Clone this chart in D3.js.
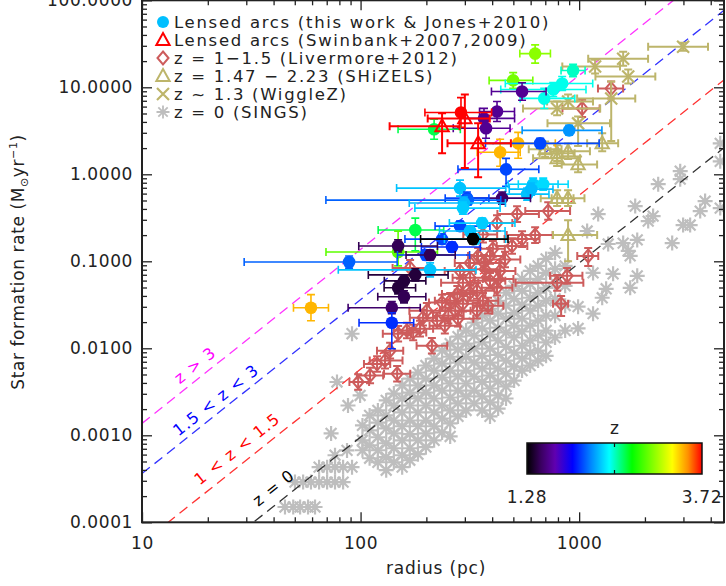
<!DOCTYPE html>
<html>
<head>
<meta charset="utf-8">
<script src="https://cdn.jsdelivr.net/npm/d3@7"></script>
<style>
  body { margin: 0; background: #fff; }
  svg { display: block; font-family: 'DejaVu Sans', sans-serif; }
</style>
</head>
<body>
<div id="viz"></div>
<script>
// Lensed arcs (this work & Jones+2010)
// [radius pc, SFR, z, radius err lo, radius err hi, SFR err lo, SFR err hi]  (errors in dex)
const lensedArcs = [
  [629, 24.4, 3.05, 0.07, 0.07, 0.11, 0.10],
  [499, 12.0, 3.0, 0.11, 0.09, 0.09, 0.09],
  [938, 15.6, 2.5, 0.055, 0.055, 0.07, 0.07],
  [836, 11.05, 2.45, 0.26, 0.14, 0.08, 0.08],
  [761, 9.43, 2.45, 0.24, 0.15, 0.08, 0.08],
  [692, 7.45, 2.45, 0.11, 0.14, 0.115, 0.115],
  [548, 8.95, 1.6, 0.14, 0.11, 0.10, 0.10],
  [421, 5.28, 1.6, 0.08, 0.08, 0.115, 0.115],
  [367, 4.39, 1.6, 0.087, 0.14, 0.115, 0.115],
  [375, 3.38, 1.6, 0.15, 0.11, 0.115, 0.115],
  [288, 5.14, 3.72, 0.165, 0.14, 0.17, 0.17],
  [217, 3.29, 2.65, 0.165, 0.12, 0.115, 0.115],
  [526, 2.27, 3.45, 0.17, 0.17, 0.172, 0.126],
  [435, 1.79, 3.45, 0.105, 0.092, 0.16, 0.15],
  [900, 3.2, 2.2, 0.215, 0.15, 0.057, 0.057],
  [663, 2.27, 2.05, 0.25, 0.27, 0.057, 0.057],
  [463, 1.14, 2.05, 0.22, 0.15, 0.195, 0.126],
  [285, 0.694, 2.3, 0.29, 0.21, 0.092, 0.092],
  [616, 0.77, 2.32, 0.114, 0.114, 0.07, 0.07],
  [685, 0.77, 2.35, 0.114, 0.114, 0.07, 0.07],
  [578, 0.591, 2.3, 0.10, 0.10, 0.07, 0.07],
  [603, 0.675, 2.28, 0.10, 0.10, 0.07, 0.07],
  [444, 0.532, 1.5, 0.15, 0.13, 0.07, 0.07],
  [307, 0.532, 2.05, 0.1, 0.1, 0.07, 0.07],
  [310, 0.505, 2.1, 0.65, 0.15, 0.057, 0.057],
  [297, 0.467, 2.28, 0.25, 0.19, 0.07, 0.07],
  [294, 0.409, 2.32, 0.22, 0.17, 0.07, 0.07],
  [178, 0.229, 2.65, 0.17, 0.13, 0.24, 0.137],
  [285, 0.254, 2.05, 0.114, 0.137, 0.057, 0.057],
  [236, 0.18, 2.05, 0.17, 0.15, 0.057, 0.057],
  [262, 0.146, 2.0, 0.14, 0.13, 0.057, 0.057],
  [317, 0.223, 2.3, 0.14, 0.16, 0.057, 0.057],
  [360, 0.275, 2.32, 0.15, 0.15, 0.057, 0.057],
  [334, 0.18, 2.32, 0.14, 0.14, 0.057, 0.057],
  [327, 0.18, 1.28, 0.24, 0.16, 0.057, 0.057],
  [148.5, 0.128, 2.95, 0.33, 0.18, 0.16, 0.24],
  [148.5, 0.150, 1.45, 0.18, 0.18, 0.07, 0.07],
  [88.6, 0.098, 2.1, 0.48, 0.22, 0.07, 0.07],
  [199, 0.118, 2.05, 0.13, 0.20, 0.057, 0.057],
  [208, 0.118, 1.45, 0.11, 0.115, 0.057, 0.057],
  [208, 0.0797, 2.3, 0.42, 0.21, 0.08, 0.08],
  [178, 0.0698, 1.4, 0.215, 0.15, 0.07, 0.07],
  [158, 0.0596, 1.4, 0.09, 0.10, 0.07, 0.07],
  [148.5, 0.0496, 1.4, 0.064, 0.08, 0.07, 0.07],
  [158, 0.0391, 1.45, 0.12, 0.10, 0.07, 0.07],
  [139, 0.0293, 1.5, 0.2, 0.13, 0.07, 0.07],
  [139, 0.0197, 2.0, 0.15, 0.10, 0.30, 0.115],
  [59.3, 0.0293, 3.45, 0.08, 0.08, 0.15, 0.15]
];

// Lensed arcs (Swinbank+2007,2009): [radius, SFR, r lo, r hi, SFR lo, SFR hi] (dex)
const swinbankArcs = [
  [300, 4.39, 0.17, 0.114, 0.57, 0.275],
  [236, 3.56, 0.24, 0.08, 0.31, 0.15],
  [345, 2.27, 0.14, 0.15, 0.39, 0.23]
];

// z = 1-1.5 (Livermore+2012)
const livermore = [
  [1400, 9.68, 0.06, 0.055, 0.115, 0.08],
  [1032, 5.72, 0.09, 0.08, 0.1, 0.1],
  [520, 0.349, 0.09, 0.1, 0.09, 0.09],
  [722, 0.378, 0.105, 0.1, 0.1, 0.1],
  [629, 0.2, 0.13, 0.08, 0.09, 0.09],
  [548, 0.18, 0.08, 0.08, 0.09, 0.09],
  [1100, 0.1153, 0.05, 0.046, 0.115, 0.09],
  [881, 0.068, 0.078, 0.07, 0.09, 0.09],
  [793, 0.0565, 0.19, 0.12, 0.09, 0.09],
  [827, 0.0325, 0.037, 0.032, 0.14, 0.09],
  [363, 0.203, 0.09, 0.065, 0.09, 0.09],
  [421, 0.275, 0.07, 0.07, 0.09, 0.09],
  [493, 0.150, 0.07, 0.07, 0.09, 0.09],
  [345, 0.1153, 0.046, 0.055, 0.09, 0.09],
  [391, 0.1153, 0.06, 0.06, 0.09, 0.09],
  [458, 0.105, 0.07, 0.07, 0.09, 0.09],
  [403, 0.139, 0.06, 0.055, 0.09, 0.09],
  [317, 0.0958, 0.07, 0.07, 0.09, 0.09],
  [367, 0.0958, 0.07, 0.07, 0.09, 0.09],
  [285, 0.0776, 0.07, 0.07, 0.09, 0.09],
  [435, 0.0776, 0.07, 0.07, 0.09, 0.09],
  [371, 0.081, 0.07, 0.07, 0.09, 0.09],
  [426, 0.0628, 0.07, 0.07, 0.09, 0.09],
  [317, 0.0645, 0.08, 0.07, 0.09, 0.09],
  [391, 0.0596, 0.07, 0.07, 0.09, 0.09],
  [294, 0.0565, 0.1, 0.07, 0.09, 0.09],
  [341, 0.0458, 0.07, 0.08, 0.09, 0.09],
  [317, 0.0435, 0.07, 0.07, 0.09, 0.09],
  [421, 0.0496, 0.07, 0.07, 0.09, 0.09],
  [277, 0.0422, 0.07, 0.07, 0.09, 0.09],
  [363, 0.0352, 0.07, 0.07, 0.09, 0.09],
  [383, 0.0309, 0.07, 0.07, 0.09, 0.09],
  [294, 0.0325, 0.08, 0.08, 0.09, 0.09],
  [341, 0.027, 0.07, 0.07, 0.09, 0.09],
  [257, 0.0352, 0.07, 0.06, 0.09, 0.09],
  [236, 0.0335, 0.06, 0.06, 0.09, 0.09],
  [201, 0.027, 0.08, 0.085, 0.09, 0.09],
  [271, 0.027, 0.07, 0.07, 0.09, 0.09],
  [279, 0.0219, 0.07, 0.07, 0.09, 0.09],
  [252, 0.0237, 0.07, 0.07, 0.09, 0.09],
  [243, 0.0182, 0.07, 0.07, 0.09, 0.09],
  [224, 0.0208, 0.08, 0.06, 0.09, 0.09],
  [193, 0.0225, 0.06, 0.06, 0.09, 0.09],
  [212, 0.0107, 0.07, 0.07, 0.09, 0.09],
  [174, 0.0152, 0.07, 0.06, 0.09, 0.09],
  [163, 0.016, 0.06, 0.06, 0.09, 0.09],
  [187, 0.0168, 0.06, 0.06, 0.09, 0.09],
  [148.5, 0.0147, 0.07, 0.06, 0.09, 0.09],
  [168.5, 0.084, 0.08, 0.08, 0.09, 0.09],
  [136.5, 0.0094, 0.06, 0.06, 0.09, 0.09],
  [129.4, 0.00723, 0.07, 0.08, 0.09, 0.09],
  [119, 0.0066, 0.06, 0.06, 0.09, 0.09],
  [110.5, 0.00487, 0.06, 0.06, 0.09, 0.09],
  [147, 0.0051, 0.06, 0.06, 0.09, 0.09],
  [97.5, 0.0041, 0.04, 0.05, 0.09, 0.09]
];

// z = 1.47 - 2.23 (SHiZELS)
const shizels = [
  [1275, 2.27, 0.069, 0.073, 0.092, 0.115],
  [699, 1.94, 0.075, 0.075, 0.09, 0.09],
  [793, 1.75, 0.08, 0.08, 0.09, 0.09],
  [890, 1.84, 0.08, 0.1, 0.09, 0.09],
  [793, 1.53, 0.11, 0.105, 0.09, 0.09],
  [989, 1.30, 0.075, 0.087, 0.09, 0.09],
  [793, 0.532, 0.075, 0.075, 0.09, 0.09],
  [890, 0.532, 0.075, 0.075, 0.09, 0.09],
  [890, 0.2, 0.069, 0.133, 0.3, 0.17]
];

// z ~ 1.3 (WiggleZ)
const wigglez = [
  [2990, 29.3, 0.16, 0.114, 0.046, 0.046],
  [1590, 21.3, 0.16, 0.114, 0.08, 0.08],
  [1183, 17.3, 0.15, 0.114, 0.08, 0.08],
  [1677, 13.3, 0.15, 0.124, 0.08, 0.08],
  [890, 6.88, 0.096, 0.114, 0.08, 0.08],
  [793, 5.72, 0.156, 0.197, 0.08, 0.08],
  [1402, 7.45, 0.156, 0.11, 0.49, 0.195],
  [989, 3.85, 0.14, 0.146, 0.26, 0.08]
];

// z = 0 (SINGS): [radius, [SFR of the galaxies near that radius]]
const sings = [
  [45.1, [0.00015]], [49.2, [0.00015]], [52.9, [0.00015]], [57.5, [0.00015]], [61.9, [0.00015]],
  [50.1, [0.00029]], [54.6, [0.00029]], [59.3, [0.00029]], [64.6, [0.00029, 0.00043]],
  [70.3, [0.00029, 0.00043]], [76.4, [0.00029, 0.00043, 0.00059]], [83.2, [0.00029, 0.00043]],
  [91.4, [0.00043, 0.0147]], [86.7, [0.00067]], [73.3, [0.00105]], [87.6, [0.0022]],
  [78.0, [0.0041]], [99.5, [0.00287]],
  [102, [0.0013, 0.000876, 0.000673]],
  [110, [0.00169, 0.00114, 0.000768, 0.000545]],
  [120, [0.00193, 0.0014, 0.00095, 0.000673, 0.00049]],
  [131, [0.00252, 0.00169, 0.0012, 0.00081, 0.00056, 0.000397]],
  [142, [0.00302, 0.0022, 0.00148, 0.00105, 0.00071, 0.00049]],
  [155, [0.00374, 0.00265, 0.00183, 0.00127, 0.000876, 0.00059, 0.00043]],
  [168, [0.00449, 0.0031, 0.0022, 0.00148, 0.00103, 0.00071, 0.000517]],
  [183, [0.00527, 0.00374, 0.00265, 0.00183, 0.00127, 0.000876, 0.000606]],
  [199, [0.00634, 0.00449, 0.0031, 0.0022, 0.00148, 0.00105, 0.00073]],
  [217, [0.00762, 0.00555, 0.00374, 0.00265, 0.00183, 0.00127, 0.000876]],
  [236, [0.0094, 0.00668, 0.00462, 0.00327, 0.0022, 0.00156, 0.00108]],
  [257, [0.0113, 0.008, 0.00555, 0.00394, 0.00272, 0.00193, 0.00137, 0.00097]],
  [279, [0.0136, 0.00965, 0.00686, 0.00474, 0.00327, 0.00233, 0.00165]],
  [304, [0.016, 0.0113, 0.008, 0.00555, 0.00394, 0.0028, 0.00193]],
  [331, [0.0197, 0.014, 0.0099, 0.00686, 0.00474, 0.00327, 0.00233]],
  [360, [0.0237, 0.0169, 0.0117, 0.0082, 0.00585, 0.0041, 0.0028, 0.00193]],
  [391, [0.0285, 0.0208, 0.0144, 0.0099, 0.00686, 0.00487, 0.00345, 0.00239, 0.00165]],
  [426, [0.0352, 0.025, 0.0173, 0.0123, 0.0084, 0.00585, 0.00415, 0.00287, 0.00203]],
  [463, [0.0435, 0.0309, 0.0219, 0.0152, 0.0104, 0.00723, 0.0051, 0.00364, 0.00265]],
  [504, [0.0523, 0.0371, 0.0256, 0.0182, 0.0133, 0.0089, 0.00617, 0.00426]],
  [548, [0.0628, 0.0458, 0.0317, 0.0219, 0.0156, 0.0107, 0.00762, 0.00555]],
  [597, [0.0776, 0.0551, 0.0381, 0.027, 0.0182, 0.0123, 0.0089, 0.00634]],
  [649, [0.0886, 0.0628, 0.0435, 0.0309, 0.0208, 0.014, 0.0094, 0.00723]],
  [706, [0.1066, 0.0736, 0.0496, 0.0352, 0.0237, 0.016, 0.0117, 0.0082]],
  [776, [0.125, 0.0819, 0.0565, 0.0371, 0.0237, 0.0133]],
  [863, [0.0886, 0.0523, 0.0309, 0.016]],
  [989, [0.0301, 0.0169]], [1088, [0.223]], [1158, [0.0736, 0.025]],
  [1222, [0.349]], [1275, [0.0381]], [1329, [0.0483]], [1358, [0.158]],
  [1430, [0.0717]], [1590, [0.162]], [1677, [0.1316]], [1712, [0.0496, 0.1153]],
  [1805, [0.431]], [1844, [0.068, 0.176]], [2070, [0.29]], [2180, [0.331]],
  [2300, [0.77]], [2665, [0.162]], [2900, [1.085, 0.88]], [2990, [0.261]],
  [3220, [0.261]], [3580, [0.378]], [3770, [0.492]], [4420, [0.409, 1.41, 2.27]]
];

// constant SFR surface density lines: SFR = k * radius^2
const densityLines = [
  { label: 'z > 3', k: 1.37e-5 },
  { label: '1.5 < z < 3', k: 3.63e-6 },
  { label: '1 < z < 1.5', k: 5.75e-7 },
  { label: 'z = 0', k: 9.55e-8 }
];

const legendLabels = [
  'Lensed arcs (this work & Jones+2010)',
  'Lensed arcs (Swinbank+2007,2009)',
  'z = 1\u22121.5 (Livermore+2012)',
  'z = 1.47 \u2212 2.23 (SHiZELS)',
  'z ~ 1.3 (WiggleZ)',
  'z = 0 (SINGS)'
];

const zRange = [1.28, 3.72];
const xMajorTicks = [10, 100, 1000];
const yMajorTicks = [0.0001, 0.001, 0.01, 0.1, 1, 10, 100];

// ---- layout / style ----
const WIDTH = 726;
const HEIGHT = 586;
const PLOT = { left: 142, right: 724, top: 0.3, bottom: 522.3 };
const FONT = 17;
const LINE_COLORS = ['#ff33ff', '#3333ff', '#ff3333', '#333333'];
const LABEL_COLORS = ['#ff00ff', '#0000ff', '#ff0000', '#000000'];
// label anchor radius on each line and offset above it (px)
const LINE_LABEL_POS = [
  { r: 19.0, off: 12 },
  { r: 23.5, off: 11 },
  { r: 30.0, off: 14 },
  { r: 44.0, off: 14 }
];
const Z_STOPS = [0, 0.08, 0.16, 0.26, 0.36, 0.47, 0.6, 0.83, 0.92, 1];
const Z_COLORS = ['#000000', '#3a0060', '#6000b0', '#0000ff', '#0080ff',
  '#00ffff', '#00ff00', '#ffff00', '#ff9000', '#ff0000'];
const LIVERMORE_COLOR = '#cd5c5c';
const KHAKI = '#bdb56b';
const SINGS_COLOR = '#bebebe';
const CAP = 4;

const x = d3.scaleLog().domain([10, 4600]).range([PLOT.left, PLOT.right]);
const y = d3.scaleLog().domain([1e-4, 100]).range([PLOT.bottom, PLOT.top]);
const zColor = d3.scaleLinear()
  .domain(Z_STOPS.map(t => zRange[0] + t * (zRange[1] - zRange[0])))
  .range(Z_COLORS)
  .clamp(true);

const svg = d3.select('#viz').append('svg')
  .attr('width', WIDTH)
  .attr('height', HEIGHT);

svg.append('defs').append('clipPath').attr('id', 'plot-clip')
  .append('rect')
  .attr('x', PLOT.left).attr('y', PLOT.top)
  .attr('width', PLOT.right - PLOT.left)
  .attr('height', PLOT.bottom - PLOT.top);

// marker shapes
const shapes = {
  triangle: s => `M0,${-s}L${s * 0.95},${s * 0.7}L${-s * 0.95},${s * 0.7}Z`,
  diamond: s => `M0,${-s}L${s * 0.85},0L0,${s}L${-s * 0.85},0Z`,
  cross: s => `M${-s},${-s}L${s},${s}M${-s},${s}L${s},${-s}`,
  asterisk: s => {
    const d = s * 0.72;
    return `M${-s},0L${s},0M0,${-s}L0,${s}M${-d},${-d}L${d},${d}M${-d},${d}L${d},${-d}`;
  }
};

const toPoint = a => ({ r: a[0], s: a[1], rLo: a[2], rHi: a[3], sLo: a[4], sHi: a[5] });

function drawErrorBars(g, data, colorOf, width) {
  const bars = g.selectAll(null).data(data).join('g')
    .attr('stroke', colorOf)
    .attr('stroke-width', width)
    .attr('fill', 'none');
  bars.append('path').attr('d', d => {
    const cx = x(d.r); const cy = y(d.s);
    const x0 = x(d.r / 10 ** d.rLo); const x1 = x(d.r * 10 ** d.rHi);
    const y0 = y(d.s / 10 ** d.sLo); const y1 = y(d.s * 10 ** d.sHi);
    return `M${x0},${cy}H${x1}M${x0},${cy - CAP}V${cy + CAP}M${x1},${cy - CAP}V${cy + CAP}`
      + `M${cx},${y0}V${y1}M${cx - CAP},${y0}H${cx + CAP}M${cx - CAP},${y1}H${cx + CAP}`;
  });
}

const plot = svg.append('g').attr('clip-path', 'url(#plot-clip)');

// SINGS
const singsPoints = sings.flatMap(([r, list]) => list.map(s => ({ r, s })));
plot.append('g').selectAll('path').data(singsPoints).join('path')
  .attr('transform', d => `translate(${x(d.r)},${y(d.s)})`)
  .attr('d', shapes.asterisk(7.5))
  .attr('stroke', SINGS_COLOR)
  .attr('stroke-width', 2.2)
  .attr('fill', 'none');

// surface density lines
const lineG = plot.append('g');
densityLines.forEach((l, i) => {
  const rs = x.domain();
  lineG.append('line')
    .attr('x1', x(rs[0])).attr('y1', y(l.k * rs[0] * rs[0]))
    .attr('x2', x(rs[1])).attr('y2', y(l.k * rs[1] * rs[1]))
    .attr('stroke', LINE_COLORS[i])
    .attr('stroke-width', 1.3)
    .attr('stroke-dasharray', '10,6');
});

// Livermore
const liv = livermore.map(toPoint);
const livG = plot.append('g');
drawErrorBars(livG, liv, LIVERMORE_COLOR, 2);
livG.selectAll('path.m').data(liv).join('path').attr('class', 'm')
  .attr('transform', d => `translate(${x(d.r)},${y(d.s)})`)
  .attr('d', shapes.diamond(6.5))
  .attr('fill', 'none').attr('stroke', LIVERMORE_COLOR).attr('stroke-width', 2);

// SHiZELS
const shz = shizels.map(toPoint);
const shzG = plot.append('g');
drawErrorBars(shzG, shz, KHAKI, 2);
shzG.selectAll('path.m').data(shz).join('path').attr('class', 'm')
  .attr('transform', d => `translate(${x(d.r)},${y(d.s)})`)
  .attr('d', shapes.triangle(7))
  .attr('fill', 'none').attr('stroke', KHAKI).attr('stroke-width', 2);

// WiggleZ
const wig = wigglez.map(toPoint);
const wigG = plot.append('g');
drawErrorBars(wigG, wig, KHAKI, 2);
wigG.selectAll('path.m').data(wig).join('path').attr('class', 'm')
  .attr('transform', d => `translate(${x(d.r)},${y(d.s)})`)
  .attr('d', shapes.cross(6))
  .attr('fill', 'none').attr('stroke', KHAKI).attr('stroke-width', 2.2);

// lensed arcs, coloured by redshift
const arcs = lensedArcs.map(a => ({
  r: a[0], s: a[1], z: a[2], rLo: a[3], rHi: a[4], sLo: a[5], sHi: a[6]
}));
const arcG = plot.append('g');
arcs.forEach(d => {
  const g = arcG.append('g');
  drawErrorBars(g, [d], zColor(d.z), 1.6);
  g.append('circle')
    .attr('cx', x(d.r)).attr('cy', y(d.s)).attr('r', 6.3)
    .attr('fill', zColor(d.z));
});

// Swinbank arcs
const swb = swinbankArcs.map(toPoint);
const swbG = plot.append('g');
drawErrorBars(swbG, swb, '#ff0000', 2);
swbG.selectAll('path.m').data(swb).join('path').attr('class', 'm')
  .attr('transform', d => `translate(${x(d.r)},${y(d.s)})`)
  .attr('d', shapes.triangle(7))
  .attr('fill', 'none').attr('stroke', '#ff0000').attr('stroke-width', 2);

// line labels
const slope = (y(1e-2) - y(1e-4)) / (x(100) - x(10)); // pixel slope for SFR ~ r^2
const angle = Math.atan(slope) * 180 / Math.PI;
densityLines.forEach((l, i) => {
  const pos = LINE_LABEL_POS[i];
  svg.append('text')
    .attr('transform', `translate(${x(pos.r)},${y(l.k * pos.r * pos.r)}) rotate(${angle})`)
    .attr('y', -pos.off + 5)
    .attr('text-anchor', 'middle')
    .attr('font-size', 16)
    .attr('letter-spacing', 1.2)
    .attr('fill', LABEL_COLORS[i])
    .text(l.label);
});

// axes
const axisG = svg.append('g');
const minorTicks = (lo, hi) => d3.range(Math.log10(lo), Math.log10(hi))
  .flatMap(e => d3.range(2, 10).map(k => k * 10 ** e));
const xMinor = minorTicks(10, 10000).filter(v => v <= x.domain()[1]);
const yMinor = minorTicks(1e-4, 100);

function styleAxis(g) {
  g.select('.domain').remove();
  g.attr('font-size', FONT).attr('font-family', "'DejaVu Sans', sans-serif");
  g.selectAll('line').attr('stroke', '#222').attr('stroke-width', 1.3);
  g.selectAll('text').attr('fill', '#222').attr('letter-spacing', 0.6);
}

axisG.append('g').attr('transform', `translate(${PLOT.left},0)`)
  .call(d3.axisLeft(y).tickValues(yMinor).tickSize(-5).tickFormat(''))
  .call(styleAxis);
axisG.append('g').attr('transform', `translate(${PLOT.left},0)`)
  .call(d3.axisLeft(y).tickValues(yMajorTicks).tickSize(-10).tickPadding(9)
    .tickFormat(d3.format('.4f')))
  .call(styleAxis);
axisG.append('g').attr('transform', `translate(${PLOT.right},0)`)
  .call(d3.axisRight(y).tickValues(yMinor).tickSize(-5).tickFormat(''))
  .call(styleAxis);
axisG.append('g').attr('transform', `translate(${PLOT.right},0)`)
  .call(d3.axisRight(y).tickValues(yMajorTicks).tickSize(-10).tickFormat(''))
  .call(styleAxis);
axisG.append('g').attr('transform', `translate(0,${PLOT.bottom})`)
  .call(d3.axisBottom(x).tickValues(xMinor).tickSize(-5).tickFormat(''))
  .call(styleAxis);
axisG.append('g').attr('transform', `translate(0,${PLOT.bottom})`)
  .call(d3.axisBottom(x).tickValues(xMajorTicks).tickSize(-10).tickPadding(15)
    .tickFormat(d3.format('d')))
  .call(styleAxis);
axisG.append('g').attr('transform', `translate(0,${PLOT.top})`)
  .call(d3.axisTop(x).tickValues(xMinor).tickSize(-5).tickFormat(''))
  .call(styleAxis);
axisG.append('g').attr('transform', `translate(0,${PLOT.top})`)
  .call(d3.axisTop(x).tickValues(xMajorTicks).tickSize(-10).tickFormat(''))
  .call(styleAxis);

svg.append('rect')
  .attr('x', PLOT.left).attr('y', PLOT.top)
  .attr('width', PLOT.right - PLOT.left)
  .attr('height', PLOT.bottom - PLOT.top)
  .attr('fill', 'none').attr('stroke', '#222').attr('stroke-width', 2);

// axis titles
svg.append('text')
  .attr('x', 436).attr('y', 574)
  .attr('text-anchor', 'middle').attr('font-size', FONT).attr('fill', '#222')
  .attr('letter-spacing', 0.8)
  .text('radius (pc)');

const yTitle = svg.append('text')
  .attr('transform', 'translate(24,262) rotate(-90)')
  .attr('text-anchor', 'middle').attr('font-size', FONT).attr('fill', '#222')
  .attr('letter-spacing', 0.6);
yTitle.append('tspan').text('Star formation rate (M');
yTitle.append('tspan').attr('font-size', 11).attr('dy', 4).text('\u2299');
yTitle.append('tspan').attr('dy', -4).text('yr');
yTitle.append('tspan').attr('font-size', 11).attr('dy', -7).text('\u22121');
yTitle.append('tspan').attr('dy', 7).text(')');

// legend
const legend = svg.append('g').attr('font-size', 16.5).attr('fill', '#222')
  .attr('letter-spacing', 1.7);
const legendMarkers = [
  g => g.append('circle').attr('r', 6).attr('fill', '#00bfff'),
  g => g.append('path').attr('d', shapes.triangle(7)).attr('fill', 'none')
    .attr('stroke', '#ff0000').attr('stroke-width', 2),
  g => g.append('path').attr('d', shapes.diamond(6.5)).attr('fill', 'none')
    .attr('stroke', LIVERMORE_COLOR).attr('stroke-width', 2),
  g => g.append('path').attr('d', shapes.triangle(7)).attr('fill', 'none')
    .attr('stroke', KHAKI).attr('stroke-width', 2),
  g => g.append('path').attr('d', shapes.cross(6)).attr('fill', 'none')
    .attr('stroke', KHAKI).attr('stroke-width', 2.2),
  g => g.append('path').attr('d', shapes.asterisk(6.5)).attr('fill', 'none')
    .attr('stroke', SINGS_COLOR).attr('stroke-width', 1.8)
];
legendLabels.forEach((label, i) => {
  const row = legend.append('g').attr('transform', `translate(0,${22 + i * 18})`);
  legendMarkers[i](row.append('g').attr('transform', 'translate(163,0)'));
  row.append('text').attr('x', 174).attr('y', 6).text(label);
});

// colour bar
const zx = d3.scaleLinear().domain(zRange).range([527, 702]);
const grad = svg.select('defs').append('linearGradient').attr('id', 'zgrad');
Z_STOPS.forEach((t, i) => {
  grad.append('stop').attr('offset', t).attr('stop-color', Z_COLORS[i]);
});
const cb = svg.append('g');
cb.append('rect')
  .attr('x', zx(zRange[0])).attr('y', 443)
  .attr('width', zx(zRange[1]) - zx(zRange[0])).attr('height', 31)
  .attr('fill', 'url(#zgrad)').attr('stroke', '#111').attr('stroke-width', 1.5);
const zMid = (zRange[0] + zRange[1]) / 2;
cb.append('path')
  .attr('d', `M${zx(zMid)},443v4M${zx(zMid)},474v-4`)
  .attr('stroke', '#111').attr('stroke-width', 1.2);
cb.append('text').attr('x', zx(zMid)).attr('y', 434)
  .attr('text-anchor', 'middle').attr('font-size', FONT).attr('fill', '#222').text('z');
zRange.forEach(v => {
  cb.append('text').attr('x', zx(v)).attr('y', 503)
    .attr('text-anchor', 'middle').attr('font-size', FONT).attr('fill', '#222')
    .attr('letter-spacing', 0.6)
    .text(d3.format('.2f')(v));
});
</script>
</body>
</html>
